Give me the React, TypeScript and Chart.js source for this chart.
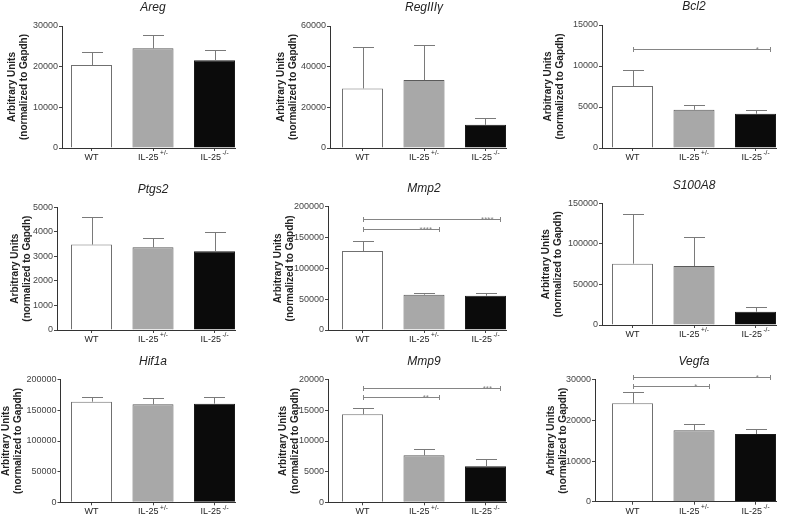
import React, { useEffect, useRef } from "react";
import { Chart, registerables } from "chart.js";

Chart.register(...registerables);

// ---------- DATA ----------
const groupLabels = ["WT", "IL-25", "IL-25"];
const groupSuperscripts = ["", "+/-", "-/-"];
const yAxisTitle = ["Arbitrary Units", "(normalized to Gapdh)"];

const panelTitles = ["Areg", "RegIIIγ", "Bcl2", "Ptgs2", "Mmp2", "S100A8", "Hif1a", "Mmp9", "Vegfa"];

const aregMean = [20400, 24500, 21600];
const aregUpper = [23500, 27800, 24100];
const reg3gMean = [29300, 33400, 11400];
const reg3gUpper = [49900, 50700, 14700];
const bcl2Mean = [7560, 4670, 4180];
const bcl2Upper = [9470, 5280, 4600];
const ptgs2Mean = [3480, 3370, 3210];
const ptgs2Upper = [4620, 3730, 3980];
const mmp2Mean = [128000, 57300, 55600];
const mmp2Upper = [144400, 60300, 59300];
const s100a8Mean = [75600, 72700, 16400];
const s100a8Upper = [136400, 108100, 21800];
const hif1aMean = [164100, 159900, 160900];
const hif1aUpper = [172300, 169700, 172300];
const mmp9Mean = [14360, 7670, 5870];
const mmp9Upper = [15330, 8700, 7010];
const vegfaMean = [24200, 17560, 16650];
const vegfaUpper = [27050, 19030, 17880];

const yAxisMax = [30000, 60000, 15000, 5000, 200000, 150000, 200000, 20000, 30000];
const yAxisStep = [10000, 20000, 5000, 1000, 50000, 50000, 50000, 5000, 10000];

// significance brackets: from group, to group, value level, label
const bcl2Sig = [{ from: 0, to: 2, y: 12100, label: "*" }];
const mmp2Sig = [
  { from: 0, to: 1, y: 163800, label: "****" },
  { from: 0, to: 2, y: 179500, label: "****" },
];
const mmp9Sig = [
  { from: 0, to: 1, y: 17130, label: "**" },
  { from: 0, to: 2, y: 18700, label: "***" },
];
const vegfaSig = [
  { from: 0, to: 1, y: 28500, label: "*" },
  { from: 0, to: 2, y: 30700, label: "*" },
];

const panelMeans = [aregMean, reg3gMean, bcl2Mean, ptgs2Mean, mmp2Mean, s100a8Mean, hif1aMean, mmp9Mean, vegfaMean];
const panelUppers = [aregUpper, reg3gUpper, bcl2Upper, ptgs2Upper, mmp2Upper, s100a8Upper, hif1aUpper, mmp9Upper, vegfaUpper];
const panelSigs = [[], [], bcl2Sig, [], mmp2Sig, [], [], mmp9Sig, vegfaSig];

// ---------- LAYOUT / STYLE ----------
const colLefts = [0, 262, 525];
const colRights = [262, 525, 787];
const rowTops = [0, 172, 345];
const rowBottoms = [172, 345, 518];
const barSpacing = 61.5;
const firstBarCenter = [91.5, 362.5, 632.5];
const barWidth = 41;
const rightOverhang = 20.5;

// per panel: axis x, plot top, plot bottom, y-title first line x
const panelAxisX = [62, 330, 602, 57, 328, 602, 60.5, 328, 595];
const panelPlotTop = [26, 26, 25, 207.3, 206.7, 203.3, 379.7, 379.7, 379.7];
const panelPlotBottom = [148, 148, 148, 330, 330, 325, 502.3, 502.3, 501.7];
const panelYTitleX = [12, 281, 548, 15, 278, 546.5, 6.5, 283, 551.5];

const barFill = ["#ffffff", "#a8a8a8", "#0b0b0b"];
const barEdge = ["#707070", "#5a5a5a", "#1a1a1a"];
const FONT = 'Arial, "Liberation Sans", sans-serif';

const overlayPlugin = {
  id: "overlay",
  afterDatasetsDraw(chart: any, _args: any, opts: any) {
    const p = opts.panel;
    const ctx = chart.ctx as CanvasRenderingContext2D;
    const xs = chart.scales.x;
    const ys = chart.scales.y;
    ctx.save();
    // error bars
    ctx.strokeStyle = "#7a7a7a";
    ctx.lineWidth = 1;
    p.mean.forEach((m: number, i: number) => {
      const cx = Math.round(xs.getPixelForValue(i)) + 0.5;
      const yb = ys.getPixelForValue(m);
      const yt = Math.round(ys.getPixelForValue(p.upper[i])) + 0.5;
      ctx.beginPath();
      ctx.moveTo(cx, yb);
      ctx.lineTo(cx, yt);
      ctx.moveTo(cx - 10.5, yt);
      ctx.lineTo(cx + 10.5, yt);
      ctx.stroke();
    });
    // significance brackets
    p.sig.forEach((s: any) => {
      const x0 = Math.round(xs.getPixelForValue(s.from)) + 0.5;
      const x1 = Math.round(xs.getPixelForValue(s.to + 0.24)) + 0.5;
      const yy = Math.round(ys.getPixelForValue(s.y)) + 0.5;
      ctx.strokeStyle = "#858585";
      ctx.beginPath();
      ctx.moveTo(x0, yy);
      ctx.lineTo(x1, yy);
      ctx.moveTo(x0, yy - 2.5);
      ctx.lineTo(x0, yy + 2.5);
      ctx.moveTo(x1, yy - 2.5);
      ctx.lineTo(x1, yy + 2.5);
      ctx.stroke();
      ctx.fillStyle = "#858585";
      ctx.font = `8px ${FONT}`;
      ctx.textAlign = "center";
      ctx.textBaseline = "alphabetic";
      ctx.fillText(s.label, xs.getPixelForValue(s.to + 0.03), yy + 2);
    });
    // panel title
    ctx.fillStyle = "#222";
    ctx.font = `italic 12px ${FONT}`;
    ctx.textAlign = "center";
    ctx.textBaseline = "middle";
    ctx.fillText(p.title, xs.getPixelForValue(1), chart.chartArea.top - 18);
    // x labels with superscripts
    const ly = chart.chartArea.bottom + 9.5;
    groupLabels.forEach((lab, i) => {
      const cx = xs.getPixelForValue(i);
      const sup = groupSuperscripts[i];
      ctx.font = `9px ${FONT}`;
      const wb = ctx.measureText(lab).width;
      ctx.font = `6.5px ${FONT}`;
      const ws = sup ? ctx.measureText(sup).width : 0;
      const gap = sup ? 1.5 : 0;
      const start = cx - (wb + gap + ws) / 2;
      ctx.textAlign = "left";
      ctx.textBaseline = "middle";
      ctx.fillStyle = "#222";
      ctx.font = `9px ${FONT}`;
      ctx.fillText(lab, start, ly);
      if (sup) {
        ctx.font = `6.5px ${FONT}`;
        ctx.fillText(sup, start + wb + gap, ly - 4);
      }
    });
    ctx.restore();
  },
};

function PanelChart({ idx }: { idx: number }) {
  const ref = useRef<HTMLCanvasElement>(null);
  const col = idx % 3;
  const row = Math.floor(idx / 3);
  const left = colLefts[col];
  const top = rowTops[row];
  const w = colRights[col] - left;
  const h = rowBottoms[row] - top;

  useEffect(() => {
    if (!ref.current) return;
    const axisX = panelAxisX[idx];
    const xMin = -(firstBarCenter[col] - axisX) / barSpacing;
    const xMax = 2 + rightOverhang / barSpacing;
    const rightPx = axisX + (xMax - xMin) * barSpacing;
    const padRight = colRights[col] - rightPx;
    const padTop = panelPlotTop[idx] - top;
    const xAxisH = rowBottoms[row] - panelPlotBottom[idx];
    const yAxisW = axisX - left;
    const titleLH = 12;
    const panel = {
      title: panelTitles[idx],
      mean: panelMeans[idx],
      upper: panelUppers[idx],
      sig: panelSigs[idx],
    };
    const chart = new Chart(ref.current, {
      type: "bar",
      data: {
        datasets: [
          {
            data: panelMeans[idx].map((v, i) => ({ x: i, y: v })),
            backgroundColor: barFill,
            borderColor: barEdge,
            borderWidth: 1,
            barPercentage: barWidth / barSpacing,
            categoryPercentage: 1,
          } as any,
        ],
      },
      options: {
        responsive: false,
        animation: false,
        devicePixelRatio: 1,
        events: [],
        layout: { padding: { top: padTop, right: padRight, bottom: 0, left: 0 } },
        plugins: {
          legend: { display: false },
          tooltip: { enabled: false },
          title: { display: false },
          overlay: { panel },
        } as any,
        scales: {
          x: {
            type: "linear",
            min: xMin,
            max: xMax,
            offset: false,
            afterBuildTicks: (s: any) => {
              s.ticks = [0, 1, 2].map((v) => ({ value: v }));
            },
            afterFit: (s: any) => {
              s.height = xAxisH;
            },
            ticks: { display: false },
            grid: {
              display: true,
              offset: false,
              drawOnChartArea: false,
              drawTicks: true,
              tickLength: 3,
              color: "#444",
            },
            border: { display: true, color: "#333", width: 1 },
          },
          y: {
            min: 0,
            max: yAxisMax[idx],
            afterFit: (s: any) => {
              s.width = yAxisW;
            },
            ticks: {
              stepSize: yAxisStep[idx],
              font: { family: FONT, size: 9 },
              color: "#444",
              padding: 1,
              callback: (v: any) => String(v),
            },
            grid: { drawOnChartArea: false, drawTicks: true, tickLength: 3, color: "#444" },
            border: { display: true, color: "#333", width: 1 },
            title: {
              display: true,
              text: yAxisTitle,
              font: { family: FONT, size: 10, weight: "bold", lineHeight: titleLH / 10 },
              color: "#222",
              padding: { top: panelYTitleX[idx] - left - titleLH / 2, bottom: 0 },
            },
          },
        },
      } as any,
      plugins: [overlayPlugin as any],
    });
    return () => chart.destroy();
  }, [idx]);

  return (
    <canvas
      ref={ref}
      width={w}
      height={h}
      style={{ position: "absolute", left, top, width: w, height: h }}
    />
  );
}

export default function App() {
  return (
    <div
      style={{
        position: "absolute",
        left: 0,
        top: 0,
        width: 787,
        height: 518,
        background: "#ffffff",
        overflow: "hidden",
      }}
    >
      {panelTitles.map((_, i) => (
        <PanelChart key={i} idx={i} />
      ))}
    </div>
  );
}
